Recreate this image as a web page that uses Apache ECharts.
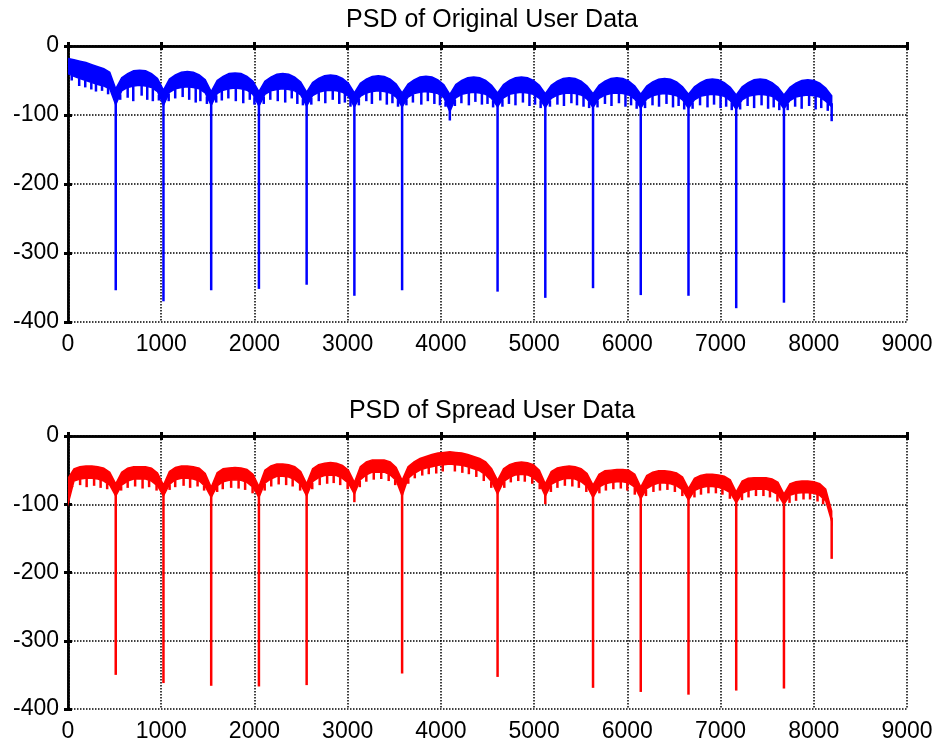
<!DOCTYPE html>
<html>
<head>
<meta charset="utf-8">
<script src="https://cdn.jsdelivr.net/npm/echarts@6/dist/echarts.min.js"></script>
<style>
html,body{margin:0;padding:0;background:#fff;}
#chart{width:938px;height:743px;}
</style>
</head>
<body>
<div id="chart"></div>
<script>
// ---------- DATA ----------
const titles = ['PSD of Original User Data', 'PSD of Spread User Data'];
const xTicks = [0, 1000, 2000, 3000, 4000, 5000, 6000, 7000, 8000, 9000];
const yTicks = [-400, -300, -200, -100, 0];
const binStep = 64; // envelope sampled every 64 frequency bins, 0..8192

// Original user data: upper / lower edge of the dense band (dB)
const origUpper = [
  -18, -20, -22, -24, -27, -30, -33, -38,
  -62, -46, -40, -36, -35, -36, -40, -47,
  -64, -48, -42, -38, -37, -38, -42, -49,
  -66, -50, -44, -40, -39, -40, -44, -51,
  -66, -51, -45, -41, -40, -41, -45, -52,
  -67, -53, -47, -43, -42, -43, -47, -54,
  -68, -54, -48, -44, -43, -44, -48, -55,
  -68, -55, -49, -45, -44, -45, -49, -56,
  -70, -56, -50, -46, -45, -46, -50, -57,
  -68, -56, -50, -46, -45, -46, -50, -57,
  -69, -57, -51, -47, -46, -47, -51, -58,
  -69, -57, -51, -47, -46, -47, -51, -58,
  -70, -58, -52, -48, -47, -48, -52, -59,
  -70, -59, -53, -49, -48, -49, -53, -60,
  -71, -59, -53, -49, -48, -49, -53, -60,
  -71, -60, -54, -50, -49, -50, -54, -61,
  -72
];
const origLower = [
  -40, -44, -47, -50, -53, -56, -58, -62,
  -85, -65, -60, -58, -57, -58, -60, -66,
  -86, -67, -62, -60, -59, -60, -62, -68,
  -86, -69, -64, -62, -61, -62, -64, -70,
  -87, -70, -65, -63, -62, -63, -65, -71,
  -87, -72, -67, -65, -64, -65, -67, -73,
  -88, -73, -68, -66, -65, -66, -68, -74,
  -88, -74, -69, -67, -66, -67, -69, -75,
  -95, -75, -70, -68, -67, -68, -70, -76,
  -88, -75, -70, -68, -67, -68, -70, -76,
  -89, -76, -71, -69, -68, -69, -71, -77,
  -89, -76, -71, -69, -68, -69, -71, -77,
  -90, -77, -72, -70, -69, -70, -72, -78,
  -90, -78, -73, -71, -70, -71, -73, -79,
  -92, -78, -73, -71, -70, -71, -73, -79,
  -91, -79, -74, -72, -71, -72, -74, -80,
  -88
];
// short downward spikes below the band: [bin, dB]
const origSpikes = [
  [40,-50],[120,-58],[185,-60],[250,-63],[300,-66],[365,-65],[430,-70],
  [560,-78],[640,-75],[700,-80],[790,-72],[850,-78],[910,-80],[975,-79],
  [1080,-80],[1150,-76],[1230,-74],[1300,-78],[1370,-82],[1420,-80],[1490,-84],
  [1590,-82],[1650,-79],[1720,-76],[1800,-80],[1880,-83],[1950,-78],[2000,-85],
  [2100,-84],[2170,-78],[2250,-80],[2330,-82],[2400,-76],[2460,-84],[2520,-86],
  [2610,-85],[2690,-80],[2760,-83],[2840,-78],[2910,-84],[2970,-82],[3030,-88],
  [3120,-86],[3200,-80],[3260,-84],[3350,-79],[3420,-85],[3480,-83],[3540,-88],
  [3630,-86],[3700,-82],[3790,-85],[3860,-80],[3930,-84],[3990,-86],[4050,-88],
  [4150,-87],[4220,-83],[4300,-86],[4370,-81],[4440,-85],[4500,-84],[4560,-89],
  [4660,-88],[4730,-84],[4800,-86],[4880,-82],[4950,-87],[5010,-85],[5070,-90],
  [5170,-88],[5250,-85],[5320,-87],[5400,-83],[5460,-86],[5530,-88],[5590,-90],
  [5680,-89],[5760,-84],[5830,-87],[5910,-83],[5980,-88],[6040,-86],[6100,-91],
  [6190,-90],[6270,-86],[6340,-88],[6420,-84],[6490,-89],[6550,-87],[6610,-92],
  [6700,-91],[6780,-86],[6860,-89],[6930,-85],[7000,-90],[7060,-88],[7120,-93],
  [7210,-92],[7290,-87],[7360,-90],[7440,-86],[7510,-91],[7570,-89],[7630,-93],
  [7720,-93],[7800,-88],[7870,-91],[7950,-87],[8020,-92],[8080,-90],[8150,-94]
];
// deep nulls: bin positions and depths (dB)
const origNullBins   = [512, 1024, 1536, 2048, 2560, 3072, 3584, 4096, 4608, 5120, 5632, 6144, 6656, 7168, 7680, 8192];
const origNullDepths = [-354, -370, -354, -352, -346, -362, -354, -108, -356, -365, -351, -361, -362, -380, -372, -109];

// Spread user data
const spreadUpper = [
  -62, -48, -45, -44, -44, -45, -47, -53,
  -70, -53, -47, -45, -45, -45, -47, -54,
  -72, -52, -46, -44, -44, -45, -47, -55,
  -75, -54, -48, -47, -46, -47, -49, -56,
  -74, -50, -44, -41, -41, -42, -45, -52,
  -70, -48, -42, -40, -39, -40, -43, -50,
  -68, -45, -38, -35, -35, -35, -38, -46,
  -65, -45, -38, -33, -30, -27, -25, -24,
  -23, -24, -25, -27, -30, -33, -38, -48,
  -65, -48, -42, -39, -38, -39, -42, -50,
  -70, -52, -47, -45, -44, -45, -48, -55,
  -72, -56, -51, -50, -49, -49, -50, -56,
  -75, -58, -53, -51, -51, -52, -54, -60,
  -77, -62, -58, -56, -56, -57, -59, -64,
  -82, -66, -62, -61, -61, -61, -63, -68,
  -85, -70, -67, -66, -66, -67, -70, -78,
  -110
];
const spreadLower = [
  -100, -66, -63, -62, -62, -63, -66, -72,
  -88, -72, -66, -63, -63, -63, -66, -73,
  -88, -71, -64, -62, -62, -63, -66, -74,
  -90, -73, -67, -65, -64, -65, -68, -75,
  -90, -69, -63, -59, -59, -60, -64, -71,
  -88, -67, -61, -58, -57, -58, -62, -69,
  -85, -64, -57, -53, -53, -53, -57, -65,
  -88, -62, -55, -50, -47, -45, -43, -42,
  -41, -42, -43, -45, -48, -51, -57, -67,
  -85, -67, -61, -57, -56, -57, -61, -69,
  -88, -71, -66, -63, -62, -63, -67, -74,
  -90, -75, -70, -68, -67, -67, -69, -75,
  -92, -77, -72, -69, -69, -70, -73, -79,
  -94, -80, -76, -74, -74, -75, -78, -83,
  -98, -84, -80, -78, -78, -78, -81, -86,
  -100, -87, -84, -83, -83, -84, -87, -95,
  -125
];
const spreadSpikes = [
  [50,-74],[130,-72],[200,-75],[280,-73],[350,-76],[420,-78],
  [570,-80],[640,-76],[720,-74],[800,-77],[870,-75],[950,-80],
  [1090,-79],[1150,-75],[1240,-73],[1310,-76],[1390,-74],[1460,-80],
  [1600,-82],[1660,-78],[1750,-76],[1830,-77],[1900,-79],[1980,-84],
  [2110,-80],[2180,-74],[2260,-71],[2340,-72],[2410,-74],[2490,-80],
  [2620,-78],[2700,-72],[2780,-70],[2850,-69],[2920,-72],[3000,-78],
  [3130,-75],[3200,-67],[3280,-64],[3360,-63],[3440,-66],[3510,-72],
  [3650,-70],[3720,-62],[3800,-58],[3870,-56],[3950,-55],[4020,-52],
  [4150,-52],[4230,-54],[4300,-56],[4380,-60],[4460,-66],[4540,-76],
  [4680,-76],[4750,-68],[4830,-66],[4900,-67],[4980,-70],[5060,-78],
  [5180,-82],[5250,-76],[5330,-73],[5410,-74],[5480,-76],[5560,-82],
  [5700,-84],[5770,-80],[5850,-78],[5930,-77],[6000,-80],[6080,-86],
  [6200,-88],[6280,-82],[6350,-80],[6430,-79],[6510,-82],[6590,-88],
  [6720,-90],[6790,-86],[6870,-84],[6950,-84],[7020,-86],[7100,-92],
  [7230,-94],[7300,-90],[7380,-88],[7460,-88],[7530,-90],[7610,-96],
  [7740,-98],[7810,-95],[7890,-93],[7960,-93],[8040,-96],[8100,-100]
];
const spreadNullBins   = [512, 1024, 1536, 2048, 2560, 3072, 3584, 4608, 5120, 5632, 6144, 6656, 7168, 7680, 8192];
const spreadNullDepths = [-350, -362, -366, -367, -365, -97, -348, -353, -100, -369, -375, -379, -373, -370, -180];

// ---------- helpers ----------
function envAt(env, x) {
  const f = x / binStep;
  const i = Math.min(Math.floor(f), env.length - 2);
  const t = f - i;
  return env[i] * (1 - t) + env[i + 1] * t;
}
function bandSeries(gi, upper, lower, color) {
  return {
    type: 'custom', xAxisIndex: gi * 2, yAxisIndex: gi * 2, clip: true, silent: true,
    data: [[0, 0]],
    renderItem: function (params, api) {
      if (params.dataIndex !== 0) return null;
      const pts = [];
      for (let i = 0; i < upper.length; i++) pts.push(api.coord([i * binStep, upper[i]]));
      for (let i = lower.length - 1; i >= 0; i--) pts.push(api.coord([i * binStep, lower[i]]));
      return { type: 'polygon', shape: { points: pts }, style: { fill: color, stroke: color, lineWidth: 1.5 } };
    }
  };
}
function stickSeries(gi, data, color, width) {
  return {
    type: 'custom', xAxisIndex: gi * 2, yAxisIndex: gi * 2, clip: true, silent: true,
    encode: { x: 0, y: [1, 2] },
    data: data,
    renderItem: function (params, api) {
      const a = api.coord([api.value(0), api.value(1)]);
      const b = api.coord([api.value(0), api.value(2)]);
      return { type: 'line', shape: { x1: a[0], y1: a[1], x2: b[0], y2: b[1] },
               style: { stroke: color, lineWidth: width, lineCap: 'butt' } };
    }
  };
}
const spikeData = (spikes, lower) => spikes.map(s => [s[0], envAt(lower, s[0]), s[1]]);
const nullData = (bins, depths, lower) => bins.map((b, k) => [b, envAt(lower, Math.min(b, 8191)) + 5, depths[k]]);

// ---------- axes ----------
const FONT = 'Liberation Sans, Arial, sans-serif';
const grids = [
  { left: 68, width: 839, top: 46, height: 276 },
  { left: 68, width: 839, top: 436, height: 273 }
];
const frameLine = { show: true, lineStyle: { color: '#000', width: 2.5, type: [2, 1] } };
const gridLine = { show: true, lineStyle: { color: '#000', width: 1.5, type: [1.5, 1.5] } };
const tickIn = { show: true, inside: true, length: 4, lineStyle: { color: '#000', width: 3 } };
const xAxes = [], yAxes = [];
for (let g = 0; g < 2; g++) {
  xAxes.push({
    type: 'value', gridIndex: g, position: 'bottom', min: xTicks[0], max: xTicks[xTicks.length - 1], interval: 1000,
    axisLine: frameLine, axisTick: tickIn, splitLine: gridLine,
    axisLabel: { color: '#000', fontSize: 23, fontFamily: FONT, margin: 11, formatter: v => String(v) }
  });
  xAxes.push({
    type: 'value', gridIndex: g, position: 'top', min: xTicks[0], max: xTicks[xTicks.length - 1], interval: 1000,
    axisLine: frameLine, axisTick: tickIn, splitLine: { show: false }, axisLabel: { show: false }
  });
  yAxes.push({
    type: 'value', gridIndex: g, position: 'left', min: yTicks[0], max: yTicks[yTicks.length - 1], interval: 100,
    axisLine: frameLine, axisTick: tickIn, splitLine: gridLine,
    axisLabel: { color: '#000', fontSize: 23, fontFamily: FONT, margin: 9, formatter: v => String(v) }
  });
  yAxes.push({
    type: 'value', gridIndex: g, position: 'right', min: yTicks[0], max: yTicks[yTicks.length - 1], interval: 100,
    axisLine: frameLine, axisTick: tickIn, splitLine: { show: false }, axisLabel: { show: false }
  });
}

const option = {
  animation: false,
  backgroundColor: '#fff',
  title: [
    { text: titles[0], left: 487, top: 3, textAlign: 'center',
      textStyle: { fontSize: 25, fontWeight: 'normal', color: '#000', fontFamily: FONT } },
    { text: titles[1], left: 487, top: 394, textAlign: 'center',
      textStyle: { fontSize: 25, fontWeight: 'normal', color: '#000', fontFamily: FONT } }
  ],
  grid: grids,
  xAxis: xAxes,
  yAxis: yAxes,
  series: [
    stickSeries(0, nullData(origNullBins, origNullDepths, origLower), '#0000ff', 2.5),
    stickSeries(0, spikeData(origSpikes, origLower), '#0000ff', 2.5),
    bandSeries(0, origUpper, origLower, '#0000ff'),
    stickSeries(1, nullData(spreadNullBins, spreadNullDepths, spreadLower), '#ff0000', 2.5),
    stickSeries(1, spikeData(spreadSpikes, spreadLower), '#ff0000', 2.5),
    bandSeries(1, spreadUpper, spreadLower, '#ff0000')
  ]
};

const chart = echarts.init(document.getElementById('chart'), null, { renderer: 'canvas' });
chart.setOption(option);
</script>
</body>
</html>
